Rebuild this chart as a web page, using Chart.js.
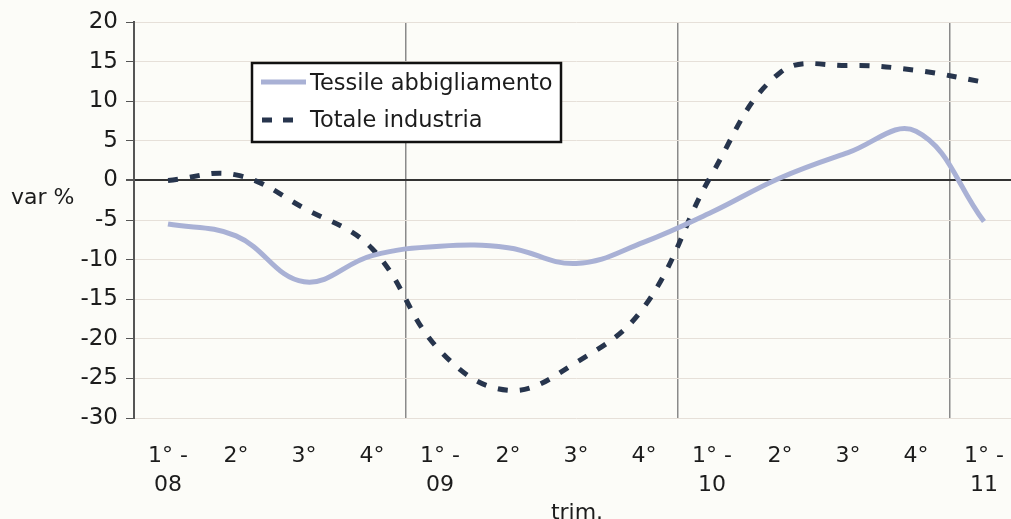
<!DOCTYPE html>
<html>
<head>
<meta charset="utf-8">
<script src="https://cdn.jsdelivr.net/npm/chart.js@4/dist/chart.umd.min.js"></script>
<style>
  html, body { margin: 0; padding: 0; background: #fcfcf8; overflow: hidden; }
  #wrap { position: absolute; left: 0; top: 0; width: 1022px; height: 519px; }
</style>
</head>
<body>
<div id="wrap"><canvas id="chart"></canvas></div>
<script>
// Quarter labels (trimestri 2008 - 2011)
const quarterLabels = [
  ['1° -', '08'], '2°', '3°', '4°',
  ['1° -', '09'], '2°', '3°', '4°',
  ['1° -', '10'], '2°', '3°', '4°',
  ['1° -', '11']
];

// Series values (var %)
const tessileValues = [-5.5, -7.0, -12.8, -9.5, -8.3, -8.5, -10.5, -7.8, -4.0, 0.3, 3.5, 6.2, -5.2];
const totaleValues = [0.0, 0.7, -3.5, -8.6, -21.5, -26.5, -23.0, -16.0, 0.8, 13.6, 14.5, 13.9, 12.4];

const seriesNames = ['Tessile abbigliamento', 'Totale industria'];

const yMin = -30;
const yMax = 20;
const yStep = 5;

const FONT = 'DejaVu Sans, Verdana, sans-serif';
const TEXT = '#1c1c1c';

// Legend box, axis captions
const extrasPlugin = {
  id: 'extras',
  afterDraw(chart) {
    const ctx = chart.ctx;
    ctx.save();

    // legend
    ctx.fillStyle = '#ffffff';
    ctx.fillRect(252, 63, 309, 79);
    ctx.strokeStyle = '#111111';
    ctx.lineWidth = 2.5;
    ctx.strokeRect(252, 63, 309, 79);

    const ds = chart.data.datasets;
    ctx.lineWidth = 5;
    ctx.lineCap = 'butt';
    ctx.strokeStyle = ds[0].borderColor;
    ctx.setLineDash([]);
    ctx.beginPath();
    ctx.moveTo(261, 82);
    ctx.lineTo(306, 82);
    ctx.stroke();

    ctx.strokeStyle = ds[1].borderColor;
    ctx.setLineDash([10, 11]);
    ctx.beginPath();
    ctx.moveTo(262, 120);
    ctx.lineTo(297, 120);
    ctx.stroke();
    ctx.setLineDash([]);

    ctx.fillStyle = TEXT;
    ctx.font = '22.5px ' + FONT;
    ctx.textAlign = 'left';
    ctx.textBaseline = 'alphabetic';
    ctx.fillText(ds[0].label, 310, 90);
    ctx.fillText(ds[1].label, 310, 127);

    // axis captions
    ctx.font = '22px ' + FONT;
    ctx.fillText('var %', 11, 204);
    ctx.textAlign = 'center';
    ctx.fillText('trim.', 577, 519);

    ctx.restore();
  }
};

const ctx = document.getElementById('chart').getContext('2d');
new Chart(ctx, {
  type: 'line',
  data: {
    labels: quarterLabels,
    datasets: [
      {
        label: seriesNames[0],
        data: tessileValues,
        borderColor: '#a9b1d5',
        borderWidth: 5,
        pointRadius: 0,
        tension: 0.4,
        fill: false
      },
      {
        label: seriesNames[1],
        data: totaleValues,
        borderColor: '#27354d',
        borderWidth: 5,
        borderDash: [10, 12],
        borderCapStyle: 'butt',
        pointRadius: 0,
        tension: 0.4,
        fill: false
      }
    ]
  },
  options: {
    responsive: true,
    maintainAspectRatio: false,
    animation: false,
    layout: { padding: { top: 22, left: 0, right: 4, bottom: 0 } },
    plugins: {
      legend: { display: false },
      tooltip: { enabled: false }
    },
    scales: {
      x: {
        offset: true,
        border: { display: false },
        grid: {
          offset: true,
          drawTicks: true,
          tickLength: 24,
          tickColor: 'rgba(0,0,0,0)',
          lineWidth: 1.5,
          color: (c) => (c.index > 0 && c.index % 4 === 0) ? '#8a8a8a' : 'rgba(0,0,0,0)'
        },
        ticks: {
          color: TEXT,
          font: { family: FONT, size: 22, lineHeight: 1.3 },
          padding: 0,
          maxRotation: 0,
          autoSkip: false
        },
        afterFit: (scale) => { scale.height = 101; }
      },
      y: {
        min: yMin,
        max: yMax,
        border: { display: true, color: '#555555', width: 2 },
        grid: {
          drawTicks: true,
          tickLength: 8,
          tickColor: '#555555',
          lineWidth: (c) => c.tick && c.tick.value === 0 ? 2 : 1,
          color: (c) => c.tick && c.tick.value === 0 ? '#333333' : '#e6e0d9'
        },
        ticks: {
          stepSize: yStep,
          color: TEXT,
          font: { family: FONT, size: 23 },
          padding: 8
        },
        afterFit: (scale) => { scale.width = 134; }
      }
    }
  },
  plugins: [extrasPlugin]
});
</script>
</body>
</html>
